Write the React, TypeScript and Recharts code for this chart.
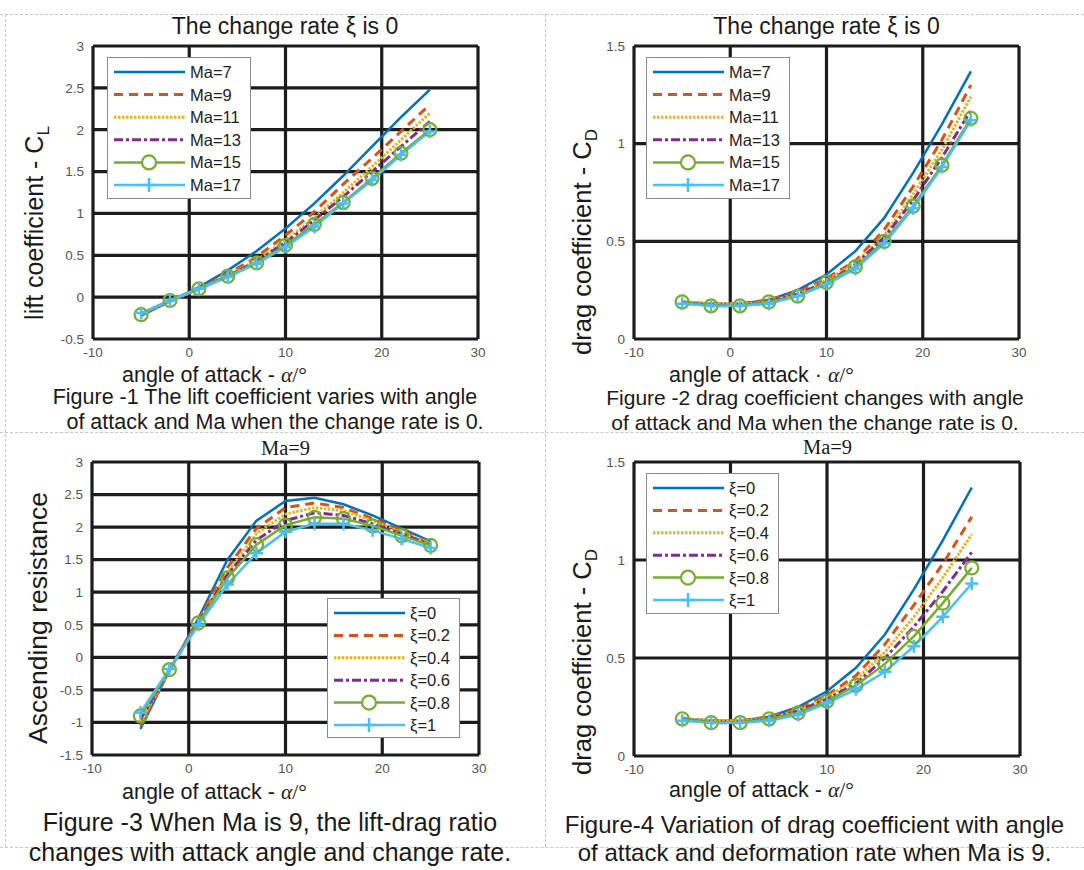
import React from 'react';
import { LineChart, Line, XAxis, YAxis, CartesianGrid, Legend } from 'recharts';

const angles = [-5, -2, 1, 4, 7, 10, 13, 16, 19, 22, 25];

// Figure 1: lift coefficient, xi = 0
const clMa7 = [-0.22, -0.05, 0.12, 0.32, 0.55, 0.82, 1.12, 1.45, 1.8, 2.15, 2.48];
const clMa9 = [-0.2, -0.05, 0.1, 0.28, 0.48, 0.74, 1.02, 1.35, 1.66, 1.98, 2.3];
const clMa11 = [-0.2, -0.05, 0.1, 0.26, 0.44, 0.68, 0.95, 1.25, 1.56, 1.88, 2.2];
const clMa13 = [-0.2, -0.04, 0.1, 0.25, 0.43, 0.65, 0.92, 1.2, 1.5, 1.8, 2.1];
const clMa15 = [-0.21, -0.04, 0.1, 0.25, 0.41, 0.62, 0.87, 1.13, 1.42, 1.72, 2.0];
const clMa17 = [-0.19, -0.04, 0.1, 0.24, 0.4, 0.6, 0.84, 1.12, 1.4, 1.7, 1.98];

// Figure 2: drag coefficient, xi = 0
const cdMa7 = [0.19, 0.18, 0.18, 0.2, 0.25, 0.33, 0.45, 0.62, 0.85, 1.1, 1.37];
const cdMa9 = [0.19, 0.18, 0.18, 0.2, 0.24, 0.31, 0.4, 0.56, 0.78, 1.02, 1.3];
const cdMa11 = [0.19, 0.18, 0.18, 0.19, 0.23, 0.3, 0.39, 0.53, 0.74, 0.97, 1.24];
const cdMa13 = [0.19, 0.17, 0.17, 0.19, 0.23, 0.29, 0.38, 0.52, 0.71, 0.93, 1.17];
const cdMa15 = [0.19, 0.17, 0.17, 0.19, 0.22, 0.29, 0.37, 0.5, 0.68, 0.89, 1.13];
const cdMa17 = [0.18, 0.17, 0.17, 0.18, 0.22, 0.28, 0.36, 0.49, 0.67, 0.88, 1.12];

// Figure 3: lift-drag ratio, Ma = 9
const ldXi0 = [-1.1, -0.2, 0.6, 1.5, 2.1, 2.4, 2.45, 2.35, 2.18, 1.98, 1.78];
const ldXi02 = [-1.05, -0.2, 0.57, 1.38, 1.98, 2.3, 2.37, 2.3, 2.13, 1.95, 1.76];
const ldXi04 = [-1.0, -0.2, 0.55, 1.3, 1.9, 2.2, 2.3, 2.25, 2.1, 1.92, 1.75];
const ldXi06 = [-0.95, -0.19, 0.54, 1.27, 1.8, 2.1, 2.22, 2.18, 2.05, 1.9, 1.73];
const ldXi08 = [-0.9, -0.19, 0.53, 1.22, 1.73, 2.03, 2.15, 2.13, 2.02, 1.87, 1.72];
const ldXi1 = [-0.85, -0.18, 0.5, 1.12, 1.6, 1.93, 2.05, 2.05, 1.95, 1.82, 1.68];

// Figure 4: drag coefficient, Ma = 9
const cdXi0 = [0.19, 0.18, 0.18, 0.2, 0.25, 0.33, 0.45, 0.62, 0.85, 1.1, 1.37];
const cdXi02 = [0.19, 0.18, 0.18, 0.2, 0.24, 0.31, 0.41, 0.57, 0.77, 0.98, 1.22];
const cdXi04 = [0.19, 0.18, 0.18, 0.19, 0.23, 0.3, 0.39, 0.53, 0.71, 0.91, 1.13];
const cdXi06 = [0.19, 0.17, 0.17, 0.19, 0.23, 0.29, 0.37, 0.5, 0.66, 0.84, 1.04];
const cdXi08 = [0.19, 0.17, 0.17, 0.19, 0.22, 0.28, 0.36, 0.47, 0.61, 0.78, 0.96];
const cdXi1 = [0.18, 0.17, 0.17, 0.18, 0.21, 0.27, 0.34, 0.43, 0.56, 0.71, 0.88];

const maNames = ['Ma=7', 'Ma=9', 'Ma=11', 'Ma=13', 'Ma=15', 'Ma=17'];
const xiNames = ['ξ=0', 'ξ=0.2', 'ξ=0.4', 'ξ=0.6', 'ξ=0.8', 'ξ=1'];

const xTicks = [-10, 0, 10, 20, 30];
const clTicks = [-0.5, 0, 0.5, 1, 1.5, 2, 2.5, 3];
const cdTicks = [0, 0.5, 1, 1.5];
const ldTicks = [-1.5, -1, -0.5, 0, 0.5, 1, 1.5, 2, 2.5, 3];

// matlab default line colours + line styles
const styles = [
  { color: '#0072BD', dash: undefined as string | undefined, width: 2.5, marker: 'none' },
  { color: '#D95319', dash: '9 6', width: 3, marker: 'none' },
  { color: '#EDB120', dash: '2.5 1.5', width: 3, marker: 'none' },
  { color: '#7E2F8E', dash: '9 3 3 3', width: 3, marker: 'none' },
  { color: '#77AC30', dash: undefined, width: 2.5, marker: 'circle' },
  { color: '#4DBEEE', dash: undefined, width: 2.5, marker: 'plus' },
];

const SANS = '"Liberation Sans", Arial, sans-serif';
const SERIF = '"Liberation Serif", "Times New Roman", serif';

type Box = { l: number; t: number; r: number; b: number };
type LegendBox = { x: number; y: number; w: number; h: number; gap: number };

const plusDot = (color: string) => (p: any) => {
  const { cx, cy, index } = p;
  if (cx == null || cy == null) return <g key={index} />;
  return (
    <path key={index} d={`M${cx - 6.5},${cy}h13M${cx},${cy - 6.5}v13`} stroke={color} strokeWidth={2.5} fill="none" />
  );
};

const dotFor = (k: number) => {
  const s = styles[k];
  if (s.marker === 'circle') return { r: 6.5, stroke: s.color, strokeWidth: 2.2, fill: 'none' };
  if (s.marker === 'plus') return plusDot(s.color);
  return false;
};

function LegendSvg({ names, lg }: { names: string[]; lg: LegendBox }) {
  return (
    <svg width={lg.w} height={lg.h} style={{ display: 'block' }}>
      <rect x={0.5} y={0.5} width={lg.w - 1} height={lg.h - 1} fill="#fff" stroke="#8a8a8a" strokeWidth={1} />
      {names.map((n, k) => {
        const s = styles[k];
        const y = 15 + k * lg.gap;
        return (
          <g key={n}>
            <line x1={7} x2={78} y1={y} y2={y} stroke={s.color} strokeWidth={s.width} strokeDasharray={s.dash} />
            {s.marker === 'circle' && <circle cx={42} cy={y} r={7} stroke={s.color} strokeWidth={2.2} fill="#fff" />}
            {s.marker === 'plus' && (
              <path d={`M36,${y}h12M42,${y - 7}v14`} stroke={s.color} strokeWidth={2.5} />
            )}
            <text x={83} y={y + 6} fontSize={16.5} fontFamily={SANS} fill="#222">
              {n}
            </text>
          </g>
        );
      })}
    </svg>
  );
}

function Panel({ box, series, names, yTicks, lg }: { box: Box; series: number[][]; names: string[]; yTicks: number[]; lg: LegendBox }) {
  const padL = 60, padR = 20, padT = 10, axisH = 25;
  const rows = angles.map((x, i) => {
    const row: Record<string, number> = { x };
    series.forEach((s, k) => (row['s' + k] = s[i]));
    return row;
  });
  const left = box.l - padL;
  const top = box.t - padT;
  return (
    <div style={{ position: 'absolute', left, top }}>
      <LineChart
        width={box.r - box.l + padL + padR}
        height={box.b - box.t + padT + axisH}
        data={rows}
        margin={{ top: padT, right: padR, left: 0, bottom: 0 }}
      >
        <CartesianGrid stroke="#1c1c1c" strokeWidth={3.2} />
        <XAxis
          type="number"
          dataKey="x"
          domain={[-10, 30]}
          ticks={xTicks}
          interval={0}
          axisLine={false}
          tickLine={false}
          height={axisH}
          tickMargin={2}
          tick={{ fontSize: 13.5, fill: '#555', fontFamily: SANS }}
        />
        <YAxis
          type="number"
          domain={[yTicks[0], yTicks[yTicks.length - 1]]}
          ticks={yTicks}
          interval={0}
          axisLine={false}
          tickLine={false}
          width={padL}
          tickMargin={3}
          tick={{ fontSize: 13.5, fill: '#555', fontFamily: SANS }}
        />
        {series.map((_, k) => (
          <Line
            key={k}
            type="linear"
            dataKey={'s' + k}
            name={names[k]}
            stroke={styles[k].color}
            strokeWidth={styles[k].width}
            strokeDasharray={styles[k].dash}
            dot={dotFor(k) as any}
            activeDot={false}
            isAnimationActive={false}
          />
        ))}
        <Legend
          layout="vertical"
          align="center"
          verticalAlign="middle"
          wrapperStyle={{ left: lg.x - left, top: lg.y - top, width: lg.w, height: lg.h }}
          content={() => <LegendSvg names={names} lg={lg} />}
        />
      </LineChart>
    </div>
  );
}

const txt = (x: number, y: number, w: number, size: number, children: React.ReactNode, family = SANS) => (
  <div
    style={{
      position: 'absolute',
      left: x,
      top: y,
      width: w,
      transform: 'translateY(-50%)',
      textAlign: 'center',
      fontSize: size,
      fontFamily: family,
      color: '#1a1a1a',
      whiteSpace: 'nowrap',
      lineHeight: 1.1,
    }}
  >
    {children}
  </div>
);

const yLabel = (cx: number, cy: number, size: number, main: string, sub?: string) => (
  <div
    style={{
      position: 'absolute',
      left: cx,
      top: cy,
      transform: 'translate(-50%,-50%) rotate(-90deg)',
      fontSize: size,
      fontFamily: SANS,
      color: '#1a1a1a',
      whiteSpace: 'nowrap',
      lineHeight: 1,
    }}
  >
    {main}
    {sub && <sub style={{ fontSize: 17 }}>{sub}</sub>}
  </div>
);

const xLabel = (x: number, y: number, sep: string) => (
  <div style={{ position: 'absolute', left: x, top: y, transform: 'translateY(-50%)', fontSize: 21.5, fontFamily: SANS, color: '#1a1a1a', whiteSpace: 'nowrap' }}>
    angle of attack {sep} <span style={{ fontFamily: SERIF, fontStyle: 'italic' }}>α</span>
    <span style={{ fontFamily: SERIF }}>/°</span>
  </div>
);

const dashed = (x: number, y: number, w: number, h: number) => (
  <div
    style={{
      position: 'absolute',
      left: x,
      top: y,
      width: w,
      height: h,
      borderTop: h === 0 ? '1px dashed #c8c8c8' : undefined,
      borderLeft: w === 0 ? '1px dashed #c8c8c8' : undefined,
    }}
  />
);

export default function App() {
  return (
    <div style={{ position: 'absolute', left: 0, top: 0, width: 1084, height: 870, background: '#fff', overflow: 'hidden' }}>
      {dashed(0, 14, 1084, 0)}
      {dashed(0, 432, 1084, 0)}
      {dashed(0, 847, 1084, 0)}
      {dashed(5, 14, 0, 833)}
      {dashed(545, 14, 0, 833)}

      {/* Figure 1 */}
      {txt(93, 27, 384, 23, 'The change rate ξ is 0')}
      {yLabel(37, 223, 25, 'lift coefficient - C', 'L')}
      <Panel box={{ l: 93, t: 46, r: 478, b: 339 }} series={[clMa7, clMa9, clMa11, clMa13, clMa15, clMa17]} names={maNames} yTicks={clTicks} lg={{ x: 107, y: 57, w: 144, h: 142, gap: 22.6 }} />
      {xLabel(122, 375, '-')}
      {txt(10, 398, 510, 21.5, 'Figure -1 The lift coefficient varies with angle')}
      {txt(10, 423, 530, 21.5, 'of attack and Ma when the change rate is 0.')}

      {/* Figure 2 */}
      {txt(634, 27, 385, 23, 'The change rate ξ is 0')}
      {yLabel(585, 242, 25.5, 'drag coefficient - C', 'D')}
      <Panel box={{ l: 634, t: 46, r: 1019, b: 339 }} series={[cdMa7, cdMa9, cdMa11, cdMa13, cdMa15, cdMa17]} names={maNames} yTicks={cdTicks} lg={{ x: 646, y: 57, w: 144, h: 142, gap: 22.6 }} />
      {xLabel(669, 375, '·')}
      {txt(555, 398, 520, 21, 'Figure -2 drag coefficient changes with angle')}
      {txt(555, 423, 520, 21, 'of attack and Ma when the change rate is 0.')}

      {/* Figure 3 */}
      {txt(92, 448, 387, 20.5, 'Ma=9', SERIF)}
      {yLabel(38, 618, 26.5, 'Ascending resistance')}
      <Panel box={{ l: 92, t: 462, r: 479, b: 755 }} series={[ldXi0, ldXi02, ldXi04, ldXi06, ldXi08, ldXi1]} names={xiNames} yTicks={ldTicks} lg={{ x: 327, y: 598, w: 133, h: 140, gap: 22.4 }} />
      {xLabel(122, 792, '-')}
      {txt(0, 823, 540, 25, 'Figure -3 When Ma is 9, the lift-drag ratio')}
      {txt(0, 853, 540, 25, 'changes with attack angle and change rate.')}

      {/* Figure 4 */}
      {txt(634, 447, 387, 20.5, 'Ma=9', SERIF)}
      {yLabel(585, 662, 25.5, 'drag coefficient - C', 'D')}
      <Panel box={{ l: 634, t: 462, r: 1020, b: 756 }} series={[cdXi0, cdXi02, cdXi04, cdXi06, cdXi08, cdXi1]} names={xiNames} yTicks={cdTicks} lg={{ x: 646, y: 473, w: 133, h: 141, gap: 22.4 }} />
      {xLabel(669, 790, '-')}
      {txt(545, 825, 539, 24, 'Figure-4 Variation of drag coefficient with angle')}
      {txt(545, 853, 539, 24, 'of attack and deformation rate when Ma is 9.')}
    </div>
  );
}
